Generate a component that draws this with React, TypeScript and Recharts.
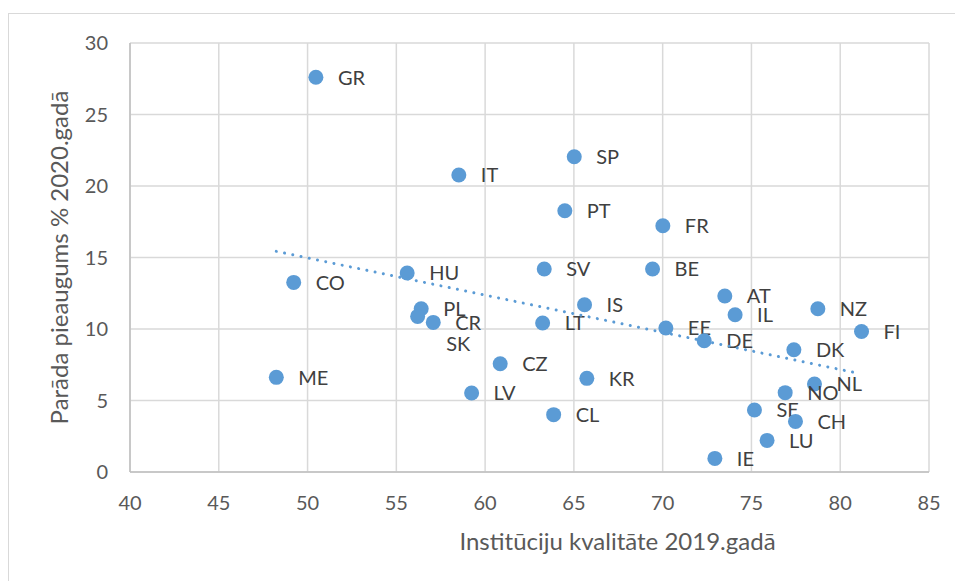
import React from 'react';
import { ScatterChart, Scatter, XAxis, YAxis, CartesianGrid, Label } from 'recharts';

const countries = ['GR','IT','HU','CO','SP','PT','FR','SV','BE','PL','SK','CR','ME','LV','IS','LT','AT','IL','NZ','FI','EE','DE','DK','CZ','KR','NL','NO','CL','SE','CH','LU','IE'];
const institutionQuality = [50.47,58.52,55.61,49.22,65.02,64.49,70.01,63.33,69.43,56.4,56.2,57.08,48.24,59.24,65.6,63.24,73.5,74.08,78.74,81.2,70.18,72.34,77.39,60.85,65.73,78.55,76.9,63.86,75.17,77.48,75.88,72.94];
const debtGrowth = [27.6,20.77,13.92,13.26,22.05,18.27,17.22,14.2,14.2,11.42,10.88,10.46,6.62,5.52,11.7,10.42,12.31,11.0,11.42,9.83,10.07,9.18,8.55,7.57,6.55,6.15,5.55,4.01,4.34,3.54,2.21,0.95];

const trendX = [48.24, 81.14];
const trendY = [15.43, 6.87];

const xTicks = [40, 45, 50, 55, 60, 65, 70, 75, 80, 85];
const yTicks = [0, 5, 10, 15, 20, 25, 30];

const xTitle = 'Institūciju kvalitāte 2019.gadā';
const yTitle = 'Parāda pieaugums % 2020.gadā';

const points = countries.map((name, i) => ({ name, x: institutionQuality[i], y: debtGrowth[i] }));
const trend = trendX.map((x, i) => ({ x, y: trendY[i] }));

const BLUE = '#5b9bd5';
const FONT = 'Lato, "Open Sans", sans-serif';

const PointShape = (props: any) => {
  const { cx, cy, payload } = props;
  const isSK = payload.name === 'SK';
  return (
    <g>
      <circle cx={cx} cy={cy} r={7.5} fill={BLUE} />
      <text
        x={cx + 22 + (isSK ? 6.5 : 0)}
        y={cy + (isSK ? 27.5 : 0)}
        dy="0.36em"
        fontSize={20}
        fontFamily={FONT}
        fill="#404040"
      >
        {payload.name}
      </text>
    </g>
  );
};

const NoShape = () => <g />;

export default function App() {
  return (
    <div style={{ position: 'absolute', left: 0, top: 0, width: 955, height: 581, overflow: 'hidden', background: '#fff' }}>
      <div style={{ position: 'absolute', left: 8, top: 13, width: 1000, height: 1000, border: '1.5px solid #d9d9d9', boxSizing: 'border-box' }} />
      <div style={{ position: 'absolute', left: 0, top: 0 }}>
        <ScatterChart width={955} height={581} margin={{ top: 43, right: 26, bottom: 79, left: 0 }}>
          <CartesianGrid stroke="#d9d9d9" strokeWidth={1.5} />
          <XAxis
            type="number"
            dataKey="x"
            domain={[40, 85]}
            ticks={xTicks}
            height={30}
            tickSize={0}
            tickMargin={24}
            tickLine={false}
            axisLine={{ stroke: '#bfbfbf', strokeWidth: 1.5 }}
            tick={{ fill: '#595959', fontSize: 20, fontFamily: FONT }}
            allowDataOverflow
          >
            <Label
              content={(p: any) => {
                const vb = p.viewBox || { x: 130, y: 472, width: 799, height: 30 };
                return (
                  <text
                    x={vb.x + vb.width / 2 + 88}
                    y={vb.y + 78}
                    textAnchor="middle"
                    fontSize={24}
                    fontFamily={FONT}
                    fill="#595959"
                  >
                    {xTitle}
                  </text>
                );
              }}
            />
          </XAxis>
          <YAxis
            type="number"
            dataKey="y"
            domain={[0, 30]}
            ticks={yTicks}
            width={130}
            tickSize={0}
            tickMargin={22}
            tickLine={false}
            axisLine={{ stroke: '#bfbfbf', strokeWidth: 1.5 }}
            tick={{ fill: '#595959', fontSize: 20, fontFamily: FONT }}
            allowDataOverflow
          >
            <Label
              content={(p: any) => {
                const vb = p.viewBox || { x: 0, y: 43, width: 130, height: 429 };
                const cx = vb.x + 68;
                const cy = vb.y + vb.height / 2;
                return (
                  <text
                    x={cx}
                    y={cy}
                    transform={`rotate(-90, ${cx}, ${cy})`}
                    textAnchor="middle"
                    fontSize={24}
                    fontFamily={FONT}
                    fill="#595959"
                  >
                    {yTitle}
                  </text>
                );
              }}
            />
          </YAxis>
          <Scatter data={points} shape={PointShape} isAnimationActive={false} />
          <Scatter
            data={trend}
            shape={NoShape}
            line={{ stroke: BLUE, strokeWidth: 3, strokeDasharray: '0.01 8.4', strokeLinecap: 'round' } as any}
            isAnimationActive={false}
          />
        </ScatterChart>
      </div>
    </div>
  );
}
